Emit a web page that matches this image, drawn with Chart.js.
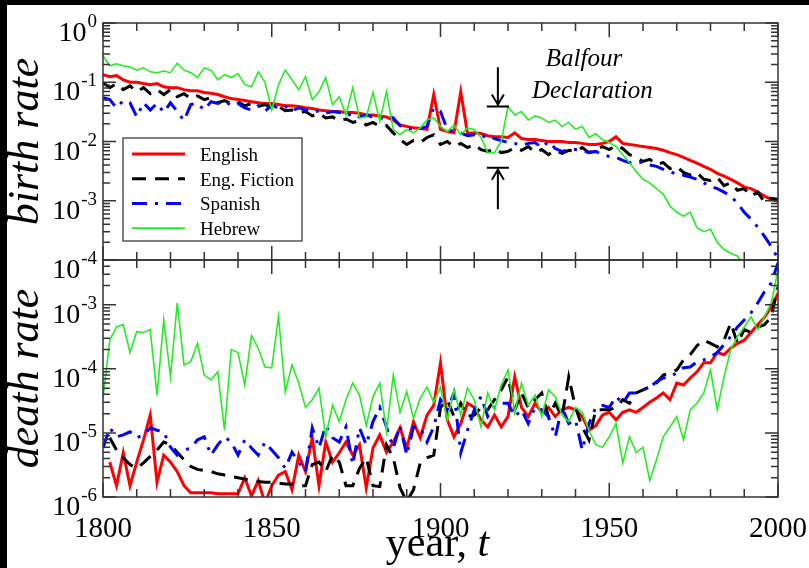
<!DOCTYPE html>
<html>
<head>
<meta charset="utf-8">
<script src="https://cdn.jsdelivr.net/npm/chart.js@4.4.1/dist/chart.umd.min.js"></script>
<style>
  html, body { margin: 0; padding: 0; background: #fff; }
  #wrap { width: 809px; height: 568px; position: relative; }
</style>
</head>
<body>
<div id="wrap"><canvas id="c" width="809" height="568"></canvas></div>
<script>
// years, every second year
const years = [
  1800,1802,1804,1806,1808,1810,1812,1814,1816,1818,
  1820,1822,1824,1826,1828,1830,1832,1834,1836,1838,
  1840,1842,1844,1846,1848,1850,1852,1854,1856,1858,
  1860,1862,1864,1866,1868,1870,1872,1874,1876,1878,
  1880,1882,1884,1886,1888,1890,1892,1894,1896,1898,
  1900,1902,1904,1906,1908,1910,1912,1914,1916,1918,
  1920,1922,1924,1926,1928,1930,1932,1934,1936,1938,
  1940,1942,1944,1946,1948,1950,1952,1954,1956,1958,
  1960,1962,1964,1966,1968,1970,1972,1974,1976,1978,
  1980,1982,1984,1986,1988,1990,1992,1994,1996,1998,
  2000
];

const seriesNames = ['English', 'Eng. Fiction', 'Spanish', 'Hebrew'];

// birth rate (top panel)
const birthEnglish = [
  0.134,0.124,0.13,0.11,0.10,0.10,0.095,0.091,0.095,0.084,
  0.081,0.081,0.075,0.072,0.072,0.067,0.065,0.062,0.057,0.053,
  0.051,0.049,0.047,0.045,0.044,0.044,0.042,0.040,0.040,0.039,
  0.037,0.036,0.034,0.033,0.032,0.032,0.031,0.031,0.030,0.028,
  0.028,0.027,0.026,0.023,0.019,0.018,0.017,0.0165,0.016,0.062,
  0.016,0.0147,0.014,0.069,0.0136,0.014,0.0136,0.0125,0.012,0.012,
  0.0117,0.014,0.0112,0.0108,0.0108,0.0104,0.010,0.010,0.010,0.0096,
  0.0096,0.0093,0.0089,0.0089,0.0093,0.010,0.012,0.0093,0.0089,0.0086,
  0.0082,0.0079,0.0076,0.0071,0.0065,0.0060,0.0054,0.0048,0.0043,0.0038,
  0.0034,0.0029,0.0026,0.0023,0.0020,0.0017,0.0016,0.0014,0.0012,0.00106,
  0.00098
];
const birthFiction = [
  0.098,0.081,0.095,0.075,0.087,0.069,0.081,0.064,0.075,0.062,
  0.075,0.057,0.064,0.053,0.059,0.051,0.055,0.045,0.049,0.044,
  0.047,0.040,0.044,0.039,0.042,0.037,0.039,0.033,0.034,0.031,
  0.032,0.027,0.030,0.025,0.026,0.0225,0.024,0.021,0.0225,0.019,
  0.021,0.018,0.0185,0.014,0.0108,0.0089,0.0104,0.0096,0.0117,0.013,
  0.0089,0.010,0.0082,0.0093,0.0079,0.0089,0.0073,0.0068,0.0076,0.0065,
  0.0068,0.0079,0.0071,0.0082,0.0065,0.0073,0.0060,0.0071,0.0063,0.0071,
  0.0068,0.0079,0.0065,0.0073,0.0082,0.0073,0.0086,0.0076,0.0060,0.0054,
  0.0046,0.0050,0.0041,0.0044,0.0035,0.0038,0.0030,0.0027,0.0030,0.0023,
  0.0022,0.0025,0.0018,0.0020,0.0015,0.0016,0.0012,0.0014,0.00094,0.0011,
  0.00106
];
const birthSpanish = [
  0.055,0.051,0.037,0.049,0.045,0.026,0.045,0.034,0.044,0.031,
  0.045,0.032,0.0225,0.042,0.044,0.034,0.047,0.044,0.049,0.040,
  0.044,0.037,0.034,0.040,0.032,0.042,0.036,0.039,0.033,0.037,
  0.034,0.031,0.033,0.030,0.032,0.031,0.027,0.030,0.026,0.028,
  0.026,0.024,0.027,0.025,0.0185,0.017,0.016,0.0165,0.018,0.037,
  0.032,0.016,0.0147,0.014,0.0125,0.013,0.0117,0.013,0.0112,0.0104,
  0.0096,0.0093,0.0086,0.0093,0.0096,0.0079,0.010,0.0076,0.0068,0.0073,
  0.0073,0.0071,0.0065,0.0068,0.0060,0.0056,0.0054,0.0048,0.0044,0.0046,
  0.0044,0.0040,0.0038,0.0034,0.0031,0.0028,0.0027,0.0025,0.0023,0.0020,
  0.00175,0.0016,0.0014,0.0012,0.00090,0.00064,0.00049,0.00036,0.00025,0.00017,
  0.000105
];
const birthHebrew = [
  0.28,0.19,0.205,0.19,0.18,0.16,0.175,0.15,0.145,0.155,
  0.145,0.21,0.16,0.145,0.12,0.175,0.16,0.11,0.134,0.12,
  0.14,0.091,0.084,0.15,0.10,0.034,0.091,0.16,0.11,0.075,
  0.124,0.051,0.069,0.12,0.042,0.057,0.028,0.081,0.025,0.026,
  0.067,0.022,0.069,0.016,0.013,0.016,0.014,0.017,0.023,0.025,
  0.018,0.0147,0.019,0.013,0.017,0.016,0.0117,0.0065,0.0065,0.010,
  0.039,0.028,0.032,0.023,0.027,0.025,0.021,0.023,0.018,0.021,
  0.016,0.018,0.0117,0.0135,0.0108,0.0096,0.0082,0.0060,0.0044,0.0031,
  0.0023,0.0020,0.0016,0.0013,0.00081,0.00064,0.00055,0.00064,0.00035,0.0003,
  0.00033,0.0002,0.00015,0.00013,0.000117,0.00008,0.00006,0.00005,0.00004,0.000033,
  0.000027
];

// death rate (bottom panel)
const deathEnglish = [
  null,3.5e-6,1.5e-6,4.9e-6,1.5e-6,3.5e-6,7.8e-6,1.9e-5,1.7e-6,4.5e-6,
  3.5e-6,2.5e-6,1.5e-6,1.16e-6,1.16e-6,1.16e-6,1.16e-6,1.12e-6,1.12e-6,1.12e-6,
  1.12e-6,2.0e-6,1.04e-6,1.8e-6,8e-7,1.5e-6,2.2e-6,2.5e-6,1.3e-6,4.5e-6,
  2.5e-6,8.4e-6,1.5e-6,7.2e-6,3.5e-6,4.9e-6,7.2e-6,4.5e-6,6.5e-6,1.4e-6,
  5.8e-6,9.3e-6,5.0e-6,7.2e-6,1.2e-5,5.8e-6,1.5e-5,8.4e-6,1.9e-5,2.7e-5,
  1.24e-4,1.6e-5,8.7e-6,1.4e-5,2.9e-5,2.5e-5,1.6e-5,1.24e-5,1.9e-5,1.24e-5,
  1.8e-5,7.5e-5,2.5e-5,1.8e-5,2.9e-5,2.1e-5,2.5e-5,1.8e-5,2.3e-5,2.5e-5,
  2.3e-5,1.8e-5,1.1e-5,1.3e-5,1.9e-5,2.1e-5,1.6e-5,2.1e-5,2.3e-5,2.1e-5,
  2.5e-5,3.0e-5,3.5e-5,4.2e-5,3.3e-5,6.0e-5,5.6e-5,7.2e-5,9.0e-5,1.24e-4,
  1.24e-4,1.8e-4,1.66e-4,2.1e-4,2.5e-4,2.8e-4,3.7e-4,4.9e-4,6.3e-4,9.3e-4,
  1.5e-3
];
const deathFiction = [
  null,8.4e-6,5.4e-6,4.1e-6,3.2e-6,2.8e-6,3.4e-6,4.3e-6,5.4e-6,7.2e-6,
  6.5e-6,5.0e-6,3.8e-6,3.0e-6,2.7e-6,2.6e-6,2.5e-6,2.3e-6,2.2e-6,2.1e-6,
  2.0e-6,1.9e-6,1.8e-6,1.75e-6,1.7e-6,1.7e-6,1.65e-6,1.6e-6,1.6e-6,1.5e-6,
  1.5e-6,3.2e-6,3.5e-6,2.5e-6,4.5e-6,3.5e-6,1.5e-6,1.5e-6,2.8e-6,4.1e-6,
  1.5e-6,1.45e-6,6.5e-6,4.1e-6,1.4e-6,8.5e-7,1.3e-6,3.4e-6,4.1e-6,4.5e-6,
  2.5e-5,3.3e-5,1.8e-5,2.9e-5,1.8e-5,1.9e-5,2.5e-5,2.3e-5,3.3e-5,4.7e-5,
  7.5e-5,2.3e-5,4.2e-5,2.5e-5,3.3e-5,4.2e-5,1.8e-5,2.9e-5,1.8e-5,7.5e-5,
  2.5e-5,1.24e-5,7.8e-6,2.3e-5,2.3e-5,2.3e-5,2.5e-5,3.3e-5,2.9e-5,4.2e-5,
  4.7e-5,5.2e-5,6.0e-5,8.0e-5,8.7e-5,9.6e-5,1.38e-4,1.66e-4,2.3e-4,2.8e-4,
  2.5e-4,2.2e-4,2.8e-4,5.2e-4,2.5e-4,4.1e-4,3.7e-4,4.5e-4,4.9e-4,6.5e-4,
  1.9e-3
];
const deathSpanish = [
  5.8e-6,1.2e-5,8.7e-6,9.3e-6,1.04e-5,8.4e-6,9.3e-6,1.2e-5,1.1e-5,1.04e-5,
  6.0e-6,4.5e-6,5.4e-6,5.8e-6,7.8e-6,8.7e-6,4.5e-6,6.5e-6,8.7e-6,7.2e-6,
  4.5e-6,7.8e-6,5.8e-6,4.5e-6,7.2e-6,5.4e-6,4.1e-6,2.8e-6,5.0e-6,3.5e-6,
  2.5e-6,1.2e-5,5.8e-6,1.3e-5,8.4e-6,7.2e-6,1.24e-5,3.2e-6,1.2e-5,6.5e-6,
  1.5e-5,2.5e-5,1.24e-5,5.8e-6,1.3e-5,4.5e-6,1.24e-5,1.2e-5,7.2e-6,1.24e-5,
  3.3e-5,2.3e-5,4.2e-5,4.9e-6,1.1e-5,2.3e-5,3.7e-5,1.8e-5,2.5e-5,2.9e-5,
  2.9e-5,1.8e-5,2.3e-5,1.4e-5,2.5e-5,2.3e-5,1.8e-5,8.7e-6,2.5e-5,1.4e-5,
  1.6e-5,5.4e-6,1.4e-5,2.5e-5,2.7e-5,2.5e-5,3.7e-5,2.9e-5,4.2e-5,4.2e-5,
  4.7e-5,5.2e-5,6.3e-5,7.2e-5,7.5e-5,8.7e-5,1.04e-4,1.07e-4,1.29e-4,1.38e-4,
  1.54e-4,1.8e-4,2.4e-4,3.2e-4,4.5e-4,5.8e-4,7.5e-4,1.07e-3,1.6e-3,2.2e-3,
  4.5e-3
];
const deathHebrew = [
  3.5e-5,2.8e-4,4.5e-4,4.9e-4,1.8e-4,3.8e-4,3.7e-4,4.1e-4,3.9e-5,5.8e-4,
  7.5e-5,1.07e-3,1.15e-4,1.29e-4,2.5e-4,8.0e-5,6.7e-5,9.0e-5,1.1e-5,2.0e-4,
  1.8e-4,5.6e-5,3.3e-4,2.1e-4,1.07e-4,1.04e-4,6.5e-4,4.4e-5,1.15e-4,6.0e-5,
  2.5e-5,3.3e-5,5.0e-5,8.7e-6,2.7e-5,1.5e-5,3.3e-5,6.0e-5,3.9e-5,1.3e-5,
  3.7e-5,6.0e-5,1.04e-5,8.0e-5,2.1e-5,4.4e-5,1.7e-5,3.5e-5,5.2e-5,3.0e-5,
  5.2e-5,1.6e-5,4.7e-5,1.9e-5,5.0e-5,3.3e-5,1.24e-5,4.2e-5,2.3e-5,5.6e-5,
  9.6e-5,2.1e-5,6.0e-5,2.7e-5,3.9e-5,1.8e-5,4.7e-5,3.7e-5,1.9e-5,1.5e-5,
  2.5e-5,2.1e-5,1.1e-5,6.5e-6,6.0e-6,8.7e-6,1.4e-5,3.4e-6,8.7e-6,4.9e-6,
  6.0e-6,1.8e-6,3.8e-6,8.7e-6,1.24e-5,1.8e-5,7.8e-6,2.3e-5,2.9e-5,4.2e-5,
  9.6e-5,2.3e-5,7.5e-5,2.0e-4,3.2e-4,4.5e-4,6.5e-4,4.1e-4,6.5e-4,1.07e-3,
  3.5e-3
];

// axis labels
const xTickLabels = [1800, 1850, 1900, 1950, 2000];
const birthExponents = [0, -1, -2, -3, -4];
const deathExponents = [-3, -4, -5, -6];

const styles = [
  { color: '#ff0000', width: 3, dash: [] },
  { color: '#000000', width: 3, dash: [14, 9] },
  { color: '#0000ff', width: 3, dash: [15, 8, 3, 8] },
  { color: '#22ee22', width: 1.6, dash: [] }
];

function pts(vals) {
  return years.map((yr, i) => ({ x: yr, y: vals[i] }));
}

function makeSet(vals, k, axis) {
  return {
    label: seriesNames[k],
    data: pts(vals),
    yAxisID: axis,
    borderColor: styles[k].color,
    borderWidth: styles[k].width,
    borderDash: styles[k].dash,
    pointRadius: 0,
    tension: 0,
    fill: false,
    spanGaps: false,
    order: 3 - k
  };
}

const datasets = [
  makeSet(birthEnglish, 0, 'yBirth'),
  makeSet(birthFiction, 1, 'yBirth'),
  makeSet(birthSpanish, 2, 'yBirth'),
  makeSet(birthHebrew, 3, 'yBirth'),
  makeSet(deathEnglish, 0, 'yDeath'),
  makeSet(deathFiction, 1, 'yDeath'),
  makeSet(deathSpanish, 2, 'yDeath'),
  makeSet(deathHebrew, 3, 'yDeath')
];

const SERIF = '"Liberation Serif", "DejaVu Serif", serif';

function powLabel(ctx, exp, xRight, yTick) {
  const expText = exp === 0 ? '0' : '-' + (-exp);
  ctx.font = '19px ' + SERIF;
  const ew = ctx.measureText(expText).width;
  ctx.fillText(expText, xRight - ew, yTick + 4);
  ctx.font = '28px ' + SERIF;
  const bw = ctx.measureText('10').width;
  ctx.fillText('10', xRight - ew - bw - 1, yTick + 18);
}

const decor = {
  id: 'decor',
  beforeDraw(chart) {
    const ctx = chart.ctx;
    ctx.save();
    ctx.fillStyle = '#fff';
    ctx.fillRect(0, 0, chart.width, chart.height);
    ctx.fillStyle = '#000';
    ctx.fillRect(0, 0, chart.width, 5);
    ctx.fillRect(0, 0, 7, chart.height);
    ctx.restore();
  },
  beforeDatasetDraw(chart, args) {
    const ys = chart.scales[args.meta.yAxisID];
    const xs = chart.scales.x;
    const ctx = chart.ctx;
    ctx.save();
    ctx.beginPath();
    ctx.rect(xs.left, ys.top, xs.right - xs.left, ys.bottom - ys.top);
    ctx.clip();
  },
  afterDatasetDraw(chart) {
    chart.ctx.restore();
  },
  afterDatasetsDraw(chart) {
    const ctx = chart.ctx;
    const xs = chart.scales.x;
    const yb = chart.scales.yBirth;
    const yd = chart.scales.yDeath;
    const L = xs.left, R = xs.right;
    ctx.save();

    // frames and ticks
    ctx.strokeStyle = '#333';
    ctx.lineWidth = 1.5;
    [yb, yd].forEach(ys => {
      ctx.strokeRect(L, ys.top, R - L, ys.bottom - ys.top);
      ctx.beginPath();
      for (let yr = 1800; yr <= 2000; yr += 10) {
        const px = xs.getPixelForValue(yr);
        const len = yr % 50 === 0 ? 14 : 8;
        ctx.moveTo(px, ys.top); ctx.lineTo(px, ys.top + len);
        ctx.moveTo(px, ys.bottom); ctx.lineTo(px, ys.bottom - len);
      }
      const lo = Math.floor(Math.log10(ys.min)), hi = Math.ceil(Math.log10(ys.max));
      for (let d = lo; d <= hi; d++) {
        for (let m = 1; m <= 9; m++) {
          const v = m * Math.pow(10, d);
          if (v < ys.min * 0.999 || v > ys.max * 1.001) continue;
          const py = ys.getPixelForValue(v);
          const len = m === 1 ? 13 : 7;
          ctx.moveTo(L, py); ctx.lineTo(L + len, py);
          ctx.moveTo(R, py); ctx.lineTo(R - len, py);
        }
      }
      ctx.stroke();
    });

    // y tick labels
    ctx.fillStyle = '#000';
    ctx.textAlign = 'left';
    ctx.textBaseline = 'alphabetic';
    birthExponents.forEach(e => powLabel(ctx, e, L - 6, yb.getPixelForValue(Math.pow(10, e))));
    deathExponents.forEach(e => powLabel(ctx, e, L - 6, yd.getPixelForValue(Math.pow(10, e))));

    // x tick labels
    ctx.font = '29px ' + SERIF;
    ctx.textAlign = 'center';
    xTickLabels.forEach(yr => ctx.fillText(String(yr), xs.getPixelForValue(yr), yd.bottom + 40));

    // axis titles
    ctx.font = '42px ' + SERIF;
    const t1 = 'year, ';
    ctx.textAlign = 'left';
    const w1 = ctx.measureText(t1).width;
    ctx.font = 'italic 42px ' + SERIF;
    const w2 = ctx.measureText('t').width;
    const cx = (L + R) / 2 - 3;
    const sx = cx - (w1 + w2) / 2;
    ctx.font = '42px ' + SERIF;
    ctx.fillText(t1, sx, 556);
    ctx.font = 'italic 42px ' + SERIF;
    ctx.fillText('t', sx + w1, 556);

    ctx.font = 'italic 44px ' + SERIF;
    ctx.textAlign = 'center';
    [[yb, 'birth rate'], [yd, 'death rate']].forEach(([ys, txt]) => {
      ctx.save();
      ctx.translate(38, (ys.top + ys.bottom) / 2);
      ctx.rotate(-Math.PI / 2);
      ctx.fillText(txt, 0, 0);
      ctx.restore();
    });

    // legend box
    const bx = 123, by = 138, bw = 179, bh = 103;
    ctx.fillStyle = '#fff';
    ctx.fillRect(bx, by, bw, bh);
    ctx.strokeStyle = '#555';
    ctx.lineWidth = 1.5;
    ctx.strokeRect(bx, by, bw, bh);
    ctx.font = '19px ' + SERIF;
    ctx.textAlign = 'left';
    seriesNames.forEach((name, k) => {
      const ry = by + 16 + k * 24.7;
      ctx.save();
      ctx.strokeStyle = styles[k].color;
      ctx.lineWidth = styles[k].width;
      ctx.setLineDash(styles[k].dash);
      ctx.beginPath();
      ctx.moveTo(bx + 9, ry);
      ctx.lineTo(bx + 62, ry);
      ctx.stroke();
      ctx.restore();
      ctx.fillStyle = '#000';
      ctx.fillText(name, bx + 77, ry + 7);
    });

    // Balfour Declaration annotation
    const ax = xs.getPixelForValue(1917);
    const topBar = yb.getPixelForValue(0.039);
    const botBar = yb.getPixelForValue(0.0036);
    ctx.strokeStyle = '#000';
    ctx.lineWidth = 2;
    ctx.beginPath();
    ctx.moveTo(ax, yb.getPixelForValue(0.18)); ctx.lineTo(ax, topBar - 2);
    ctx.moveTo(ax - 6, topBar - 12); ctx.lineTo(ax, topBar - 2); ctx.lineTo(ax + 6, topBar - 12);
    ctx.moveTo(ax - 11, topBar); ctx.lineTo(ax + 11, topBar);
    ctx.moveTo(ax, yb.getPixelForValue(0.00072)); ctx.lineTo(ax, botBar + 2);
    ctx.moveTo(ax - 6, botBar + 12); ctx.lineTo(ax, botBar + 2); ctx.lineTo(ax + 6, botBar + 12);
    ctx.moveTo(ax - 11, botBar); ctx.lineTo(ax + 11, botBar);
    ctx.stroke();

    ctx.fillStyle = '#000';
    ctx.font = 'italic 25px ' + SERIF;
    ctx.textAlign = 'center';
    ctx.fillText('Balfour', xs.getPixelForValue(1942.5), yb.getPixelForValue(0.19));
    ctx.fillText('Declaration', xs.getPixelForValue(1945), yb.getPixelForValue(0.055));

    ctx.restore();
  }
};

new Chart(document.getElementById('c'), {
  type: 'line',
  data: { datasets: datasets },
  options: {
    responsive: false,
    animation: false,
    events: [],
    layout: { padding: { left: 103, right: 31, top: 23, bottom: 71 } },
    plugins: { legend: { display: false }, tooltip: { enabled: false } },
    scales: {
      x: { type: 'linear', min: 1800, max: 2000, display: false },
      yDeath: { type: 'logarithmic', position: 'left', min: 1e-6, max: 0.005, display: false, stack: 'rates', stackWeight: 1 },
      yBirth: { type: 'logarithmic', position: 'left', min: 1e-4, max: 1, display: false, stack: 'rates', stackWeight: 1 }
    }
  },
  plugins: [decor]
});
</script>
</body>
</html>
